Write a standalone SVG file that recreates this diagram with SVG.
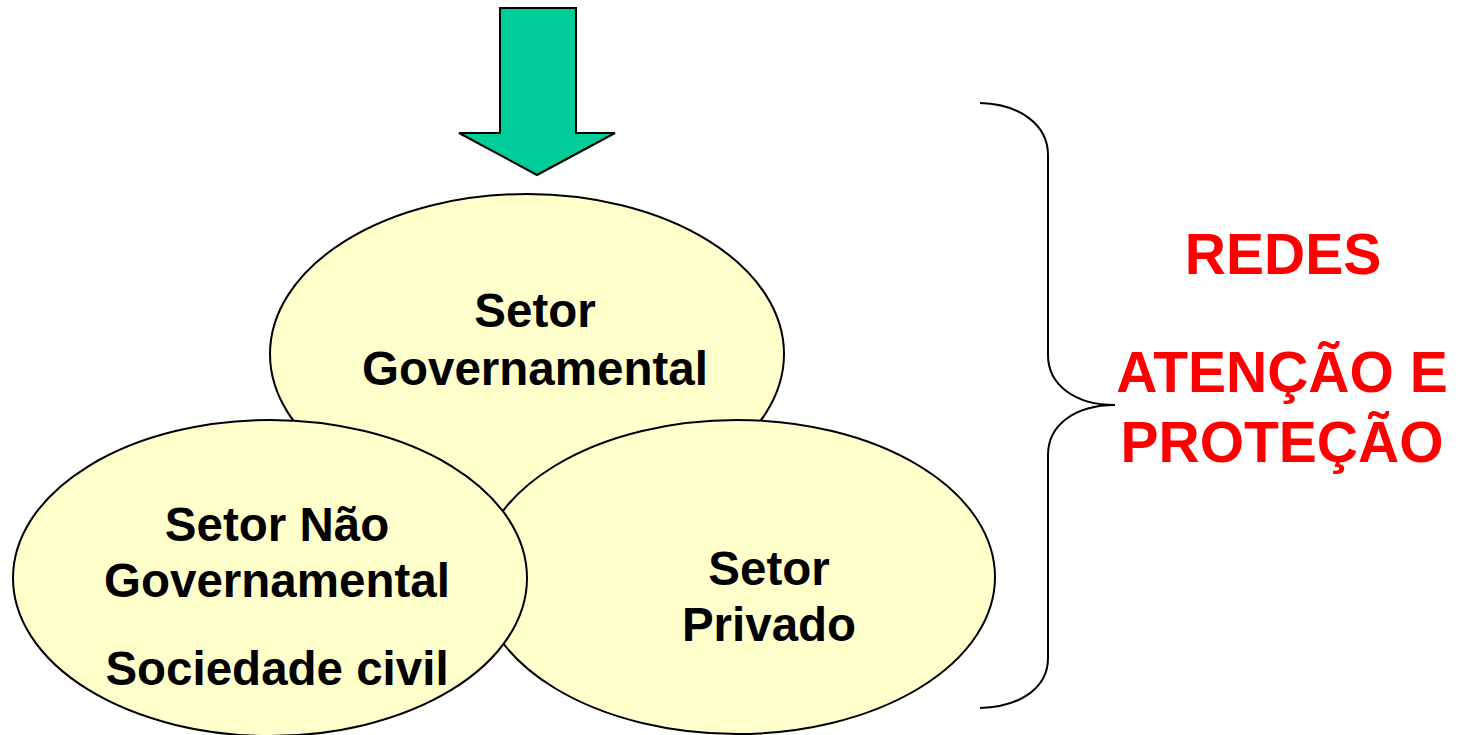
<svg xmlns="http://www.w3.org/2000/svg" width="1464" height="735" viewBox="0 0 1464 735">
<style>
.ell{fill:#FFFFCC;stroke:#000;stroke-width:2}
.lbl{font-family:"Liberation Sans",Arial,sans-serif;font-weight:bold;font-size:47.5px;fill:#000;text-anchor:middle}
.red{font-family:"Liberation Sans",Arial,sans-serif;font-weight:bold;font-size:57px;fill:#FF0000;text-anchor:middle}
</style>
<rect width="1464" height="735" fill="#fff"/>
<g id="connectors">
<path d="M500,8 L576,8 L576,133 L615,133 L537,175 L459,133 L500,133 Z" fill="#00CC99" stroke="#000" stroke-width="2" stroke-linejoin="miter"/>
<path d="M980,103 C1020,104 1048,125 1048,155 L1048,355 C1048,385 1075,405 1115,405 C1075,405 1048,425 1048,455 L1048,658 C1048,688 1020,707 980,708" fill="none" stroke="#000" stroke-width="2"/>
</g>
<g id="gov">
<ellipse class="ell" cx="527" cy="354" rx="257" ry="160"/>
<text class="lbl" x="535" y="327">Setor</text>
<text class="lbl" x="535" y="385">Governamental</text>
</g>
<g id="privado">
<ellipse class="ell" cx="737" cy="577" rx="258" ry="157"/>
<text class="lbl" x="769" y="585">Setor</text>
<text class="lbl" x="769" y="641">Privado</text>
</g>
<g id="naogov">
<ellipse class="ell" cx="270" cy="578" rx="257" ry="158"/>
<text class="lbl" x="277" y="541">Setor Não</text>
<text class="lbl" x="277" y="597">Governamental</text>
<text class="lbl" x="277" y="685">Sociedade civil</text>
</g>
<g id="redes">
<text class="red" x="1283" y="274">REDES</text>
<text class="red" x="1282" y="392">ATENÇÃO E</text>
<text class="red" x="1282" y="462">PROTEÇÃO</text>
</g>
</svg>
